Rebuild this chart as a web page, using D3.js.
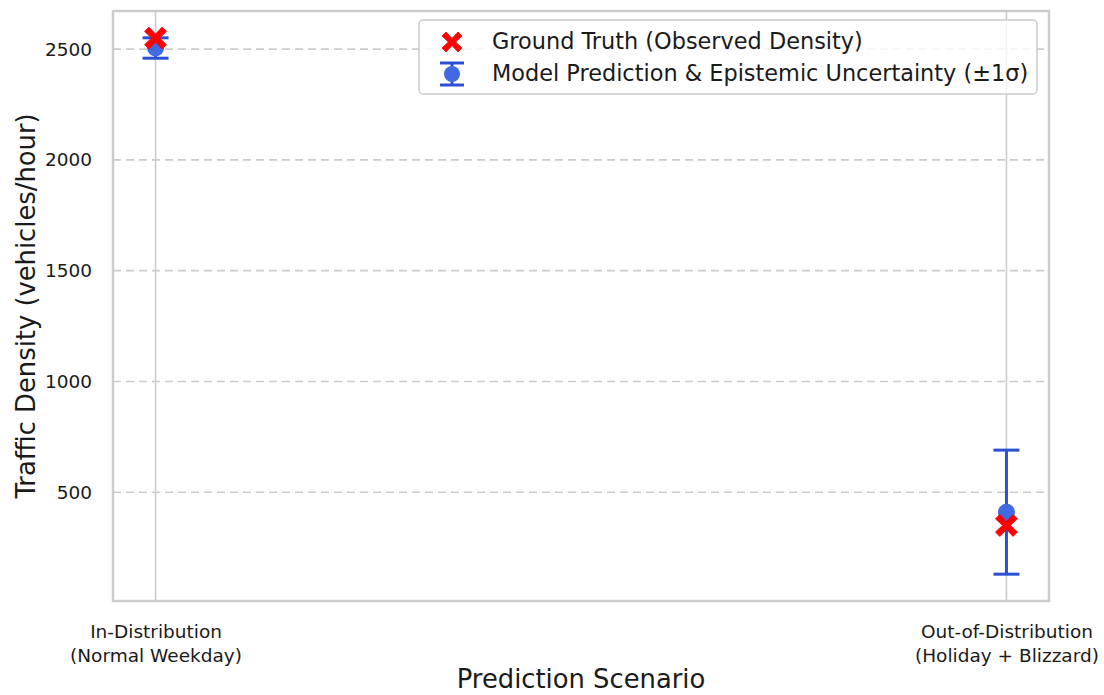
<!DOCTYPE html>
<html>
<head>
<meta charset="utf-8">
<script src="https://cdn.jsdelivr.net/npm/d3@7"></script>
<style>
  html, body { margin: 0; padding: 0; background: #fff; }
  svg { display: block; font-family: "DejaVu Sans", sans-serif; }
</style>
</head>
<body>
<svg id="chart" width="1104" height="695"></svg>
<script>
// Scenarios evaluated
const scenarios = [
  ["In-Distribution", "(Normal Weekday)"],
  ["Out-of-Distribution", "(Holiday + Blizzard)"]
];
// Observed traffic density (vehicles/hour)
const groundTruth = [2550, 350];
// Model mean prediction and epistemic standard deviation
const predMean = [2505, 410];
const predStd = [46, 280];
// Y-axis tick values
const yTicks = [500, 1000, 1500, 2000, 2500];

const legendLabels = [
  "Ground Truth (Observed Density)",
  "Model Prediction & Epistemic Uncertainty (\u00B11\u03C3)"
];

const svg = d3.select("#chart");
const plot = { left: 113, right: 1049, top: 11, bottom: 601 };

const idx = scenarios.map((_, i) => i);

// y-range with 5% padding around all plotted values
const allVals = groundTruth.concat(predMean.map((m, i) => m - predStd[i]), predMean.map((m, i) => m + predStd[i]));
const lo = d3.min(allVals), hi = d3.max(allVals), pad = (hi - lo) * 0.05;

const x = d3.scaleLinear().domain([-0.05, 1.05]).range([plot.left, plot.right]);
const y = d3.scaleLinear().domain([lo - pad, hi + pad]).range([plot.bottom, plot.top]);

const gridColor = "#cccccc";
const textColor = "#1a1a1a";

// Horizontal dashed grid
svg.append("g").selectAll("line").data(yTicks).join("line")
  .attr("x1", plot.left).attr("x2", plot.right)
  .attr("y1", d => y(d)).attr("y2", d => y(d))
  .attr("stroke", gridColor).attr("stroke-width", 1.6)
  .attr("stroke-dasharray", "8,5");

// Vertical solid grid at each scenario
svg.append("g").selectAll("line").data(idx).join("line")
  .attr("x1", d => x(d)).attr("x2", d => x(d))
  .attr("y1", plot.top).attr("y2", plot.bottom)
  .attr("stroke", gridColor).attr("stroke-width", 1.6);

// Y axis labels
const yAxis = d3.axisLeft(y).tickValues(yTicks).tickSize(0).tickPadding(0).tickFormat(d3.format("d"));
const gy = svg.append("g").attr("transform", `translate(${plot.left - 21},0)`).call(yAxis);
gy.select(".domain").remove();
gy.selectAll("text").attr("font-size", 18.5).attr("fill", textColor).attr("font-family", "DejaVu Sans, sans-serif");

// X axis labels (two lines each)
const xAxis = d3.axisBottom(x).tickValues(idx).tickSize(0).tickFormat(() => "");
const gx = svg.append("g").attr("transform", `translate(0,${plot.bottom})`).call(xAxis);
gx.select(".domain").remove();
gx.selectAll(".tick").each(function(d) {
  const t = d3.select(this).append("text")
    .attr("text-anchor", "middle").attr("fill", textColor)
    .attr("font-size", 18.5).attr("font-family", "DejaVu Sans, sans-serif");
  scenarios[d].forEach((line, k) => {
    t.append("tspan").attr("x", 0).attr("y", 37 + k * 24).text(line);
  });
});

// Plot frame
svg.append("rect")
  .attr("x", plot.left).attr("y", plot.top)
  .attr("width", plot.right - plot.left).attr("height", plot.bottom - plot.top)
  .attr("fill", "none").attr("stroke", gridColor).attr("stroke-width", 2.5);

// Axis titles
svg.append("text")
  .attr("x", (plot.left + plot.right) / 2).attr("y", 688)
  .attr("text-anchor", "middle").attr("font-size", 25.8).attr("fill", textColor)
  .text("Prediction Scenario");
svg.append("text")
  .attr("transform", `translate(35,${(plot.top + plot.bottom) / 2}) rotate(-90)`)
  .attr("text-anchor", "middle").attr("font-size", 25.8).attr("fill", textColor)
  .text("Traffic Density (vehicles/hour)");

const barColor = "#2b50d2";
const dotColor = "#4169e1";
const capHalf = 13;

// Error bars
const eb = svg.append("g");
eb.selectAll("line.stem").data(idx).join("line").attr("class", "stem")
  .attr("x1", d => x(d)).attr("x2", d => x(d))
  .attr("y1", d => y(predMean[d] - predStd[d])).attr("y2", d => y(predMean[d] + predStd[d]))
  .attr("stroke", barColor).attr("stroke-width", 3);
["lo", "hi"].forEach(side => {
  eb.selectAll("line.cap" + side).data(idx).join("line").attr("class", "cap" + side)
    .attr("x1", d => x(d) - capHalf).attr("x2", d => x(d) + capHalf)
    .attr("y1", d => y(side === "lo" ? predMean[d] - predStd[d] : predMean[d] + predStd[d]))
    .attr("y2", d => y(side === "lo" ? predMean[d] - predStd[d] : predMean[d] + predStd[d]))
    .attr("stroke", barColor).attr("stroke-width", 3);
});
// Mean markers
svg.append("g").selectAll("circle").data(idx).join("circle")
  .attr("cx", d => x(d)).attr("cy", d => y(predMean[d])).attr("r", 8.5)
  .attr("fill", dotColor);

// Filled "X" marker shape
function xMarker(s) {
  const a = s * 0.5, b = s * 0.2;
  const pts = [[-a + b, -a], [0, -b * 0.9], [a - b, -a], [a, -a + b], [b * 0.9, 0], [a, a - b],
               [a - b, a], [0, b * 0.9], [-a + b, a], [-a, a - b], [-b * 0.9, 0], [-a, -a + b]];
  return "M" + pts.map(p => p.join(",")).join("L") + "Z";
}

// Ground truth markers
svg.append("g").selectAll("path").data(idx).join("path")
  .attr("transform", d => `translate(${x(d)},${y(groundTruth[d])})`)
  .attr("d", xMarker(22))
  .attr("fill", "red").attr("stroke", "red").attr("stroke-width", 0.8).attr("stroke-linejoin", "round");

// Legend
const lg = svg.append("g").attr("transform", "translate(419,20)");
lg.append("rect").attr("width", 618).attr("height", 74).attr("rx", 4)
  .attr("fill", "white").attr("fill-opacity", 0.8)
  .attr("stroke", "#cccccc").attr("stroke-width", 1.5);
lg.append("path").attr("transform", "translate(33,22)").attr("d", xMarker(20))
  .attr("fill", "red").attr("stroke", "red").attr("stroke-width", 0.8).attr("stroke-linejoin", "round");
const le = lg.append("g").attr("transform", "translate(33,54)");
le.append("line").attr("x1", 0).attr("x2", 0).attr("y1", -11).attr("y2", 11).attr("stroke", barColor).attr("stroke-width", 3);
le.append("line").attr("x1", -12).attr("x2", 12).attr("y1", -11).attr("y2", -11).attr("stroke", barColor).attr("stroke-width", 3);
le.append("line").attr("x1", -12).attr("x2", 12).attr("y1", 11).attr("y2", 11).attr("stroke", barColor).attr("stroke-width", 3);
le.append("circle").attr("r", 8).attr("fill", dotColor);
lg.selectAll("text").data(legendLabels).join("text")
  .attr("x", 73).attr("y", (d, i) => 29 + i * 32)
  .attr("font-size", 22.4).attr("fill", textColor)
  .text(d => d);
</script>
</body>
</html>
